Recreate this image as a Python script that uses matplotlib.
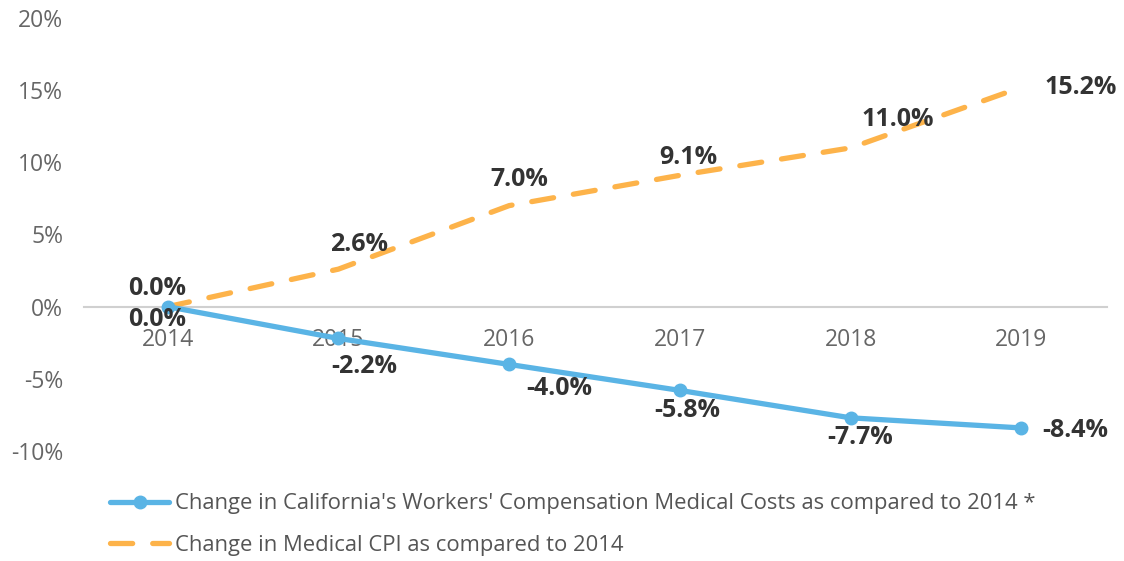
import matplotlib.pyplot as plt

plt.rcParams['font.family'] = ['Open Sans', 'DejaVu Sans']

years = ['2014', '2015', '2016', '2017', '2018', '2019']
wc_medical = [0.0, -2.2, -4.0, -5.8, -7.7, -8.4]
medical_cpi = [0.0, 2.6, 7.0, 9.1, 11.0, 15.2]
y_ticks = [-10, -5, 0, 5, 10, 15, 20]

blue = '#5AB4E5'
orange = '#FDB34A'
label_color = '#333333'
tick_color = '#666666'

# label offsets (pixels) relative to the data points
cpi_offsets = [(-11, 18), (21, 25), (10, 26), (8, 18), (47, 28), (59, 0)]
wc_offsets = [(-11, -13), (26, -28), (50, -24), (7, -20), (9, -20), (54, -3)]

fig = plt.figure(figsize=(11.24, 5.61), dpi=100)
ax = fig.add_axes([0.0747, 0.196, 0.91, 0.772])

x = list(range(len(years)))
ax.plot(x, medical_cpi, color=orange, lw=3.8, dashes=(4.2, 3.8),
        dash_capstyle='round', label='Change in Medical CPI as compared to 2014', zorder=3)
ax.plot(x, wc_medical, color=blue, lw=3.8, marker='o', markersize=9,
        solid_capstyle='round',
        label="Change in California's Workers' Compensation Medical Costs as compared to 2014 *",
        zorder=4)

px = 72 / 100
for i, v in enumerate(medical_cpi):
    dx, dy = cpi_offsets[i]
    ax.annotate(f'{v:.1f}%', (x[i], v), xytext=(dx * px, dy * px), textcoords='offset points',
                ha='center', va='center', fontsize=18, fontweight='bold', color=label_color, zorder=5)
for i, v in enumerate(wc_medical):
    dx, dy = wc_offsets[i]
    ax.annotate(f'{v:.1f}%', (x[i], v), xytext=(dx * px, dy * px), textcoords='offset points',
                ha='center', va='center', fontsize=18, fontweight='bold', color=label_color, zorder=5)

ax.set_xlim(-0.49, len(years) - 0.5)
ax.set_ylim(-10, 20)
ax.set_yticks(y_ticks)
ax.set_yticklabels([f'{t}%' for t in y_ticks])
ax.set_xticks(x)
ax.set_xticklabels(years)

for s in ['top', 'right', 'left']:
    ax.spines[s].set_visible(False)
ax.spines['bottom'].set_position(('data', 0))
ax.spines['bottom'].set_color('#d0d0d0')
ax.spines['bottom'].set_linewidth(1.5)
ax.tick_params(axis='x', length=0, pad=15, labelsize=16.5, labelcolor=tick_color)
ax.tick_params(axis='y', length=0, pad=15, labelsize=16.5, labelcolor=tick_color)

fig.legend(loc='upper left', bbox_to_anchor=(0.088, 0.14), frameon=False, fontsize=15.8,
           labelcolor='#555555', handlelength=2.7, handletextpad=0.25, labelspacing=0.92,
           borderpad=0, reverse=True)

fig.savefig('out.png', dpi=100)
